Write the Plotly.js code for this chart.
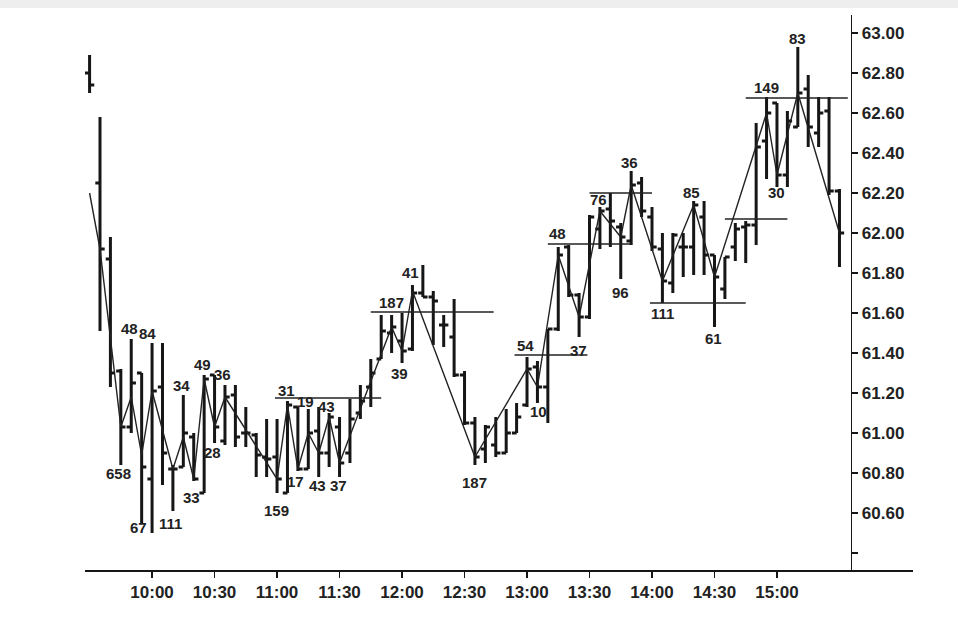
<!DOCTYPE html>
<html><head><meta charset="utf-8">
<script src="https://cdn.plot.ly/plotly-3.0.1.min.js"></script>
<style>html,body{margin:0;padding:0;background:#fff;} #chart{width:958px;height:620px;}</style>
</head><body><div id="chart"></div>
<script>
// 5-minute bars, time in minutes since midnight (09:30 .. 15:30)
const barTimes = [570,575,580,585,590,595,600,605,610,615,620,625,630,635,640,645,650,655,660,665,670,675,680,685,690,695,700,705,710,715,720,725,730,735,740,745,750,755,760,765,770,775,780,785,790,795,800,805,810,815,820,825,830,835,840,845,850,855,860,865,870,875,880,885,890,895,900,905,910,915,920,925,930];
const openP  = [62.80,62.25,61.87,61.31,61.03,61.30,60.77,61.23,60.82,60.83,60.98,60.70,61.29,60.96,61.19,61.00,60.99,60.88,60.88,60.70,61.13,60.82,61.01,60.90,61.03,60.90,61.10,61.23,61.37,61.50,61.46,61.42,61.70,61.68,61.54,61.48,61.29,61.05,60.92,60.94,60.90,61.00,61.14,61.33,61.23,61.52,61.93,61.69,61.58,62.02,62.12,62.03,61.96,62.25,62.08,61.92,61.75,61.93,61.93,62.08,61.89,61.72,61.93,62.03,62.04,62.46,62.65,62.29,62.53,62.72,62.50,62.61,62.21];
const highP  = [62.89,62.58,61.98,61.32,61.47,61.30,61.45,61.45,60.84,61.19,61.00,61.29,61.29,61.24,61.24,61.13,61.00,61.07,61.07,61.16,61.13,61.12,61.13,61.10,61.08,61.17,61.24,61.37,61.59,61.59,61.60,61.74,61.84,61.71,61.59,61.67,61.31,61.08,61.04,61.08,61.12,61.15,61.38,61.36,61.52,61.93,61.94,61.70,62.09,62.13,62.20,62.05,62.31,62.28,62.13,62.00,62.00,62.00,62.16,62.16,61.89,61.88,62.05,62.06,62.55,62.68,62.65,62.61,62.93,62.79,62.68,62.68,62.22];
const lowP   = [62.70,61.51,61.23,60.84,61.00,60.55,60.50,60.74,60.61,60.83,60.76,60.70,60.95,60.94,60.93,60.93,60.78,60.78,60.70,60.70,60.81,60.82,60.78,60.83,60.78,60.85,61.07,61.13,61.37,61.40,61.35,61.41,61.68,61.44,61.43,61.28,61.04,60.84,60.85,60.88,60.90,61.00,61.13,61.15,61.05,61.51,61.68,61.48,61.57,61.92,61.93,61.77,61.94,62.08,61.91,61.65,61.70,61.78,61.79,61.79,61.53,61.67,61.86,61.85,61.94,62.27,62.23,62.23,62.53,62.43,62.43,62.19,61.83];
const closeP = [62.74,61.92,61.30,61.03,61.25,60.83,61.21,60.90,60.82,61.00,60.77,61.27,61.03,61.18,60.98,61.00,60.89,60.87,60.77,61.14,60.82,61.00,60.90,61.08,60.85,61.07,61.16,61.30,61.51,61.53,61.41,61.70,61.68,61.66,61.54,61.29,61.05,60.88,61.03,60.90,61.00,61.08,61.32,61.23,61.52,61.89,61.69,61.58,62.08,62.11,62.06,61.98,62.24,62.11,61.93,61.76,61.99,61.93,62.14,61.89,61.78,61.88,62.02,62.04,62.43,62.60,62.29,62.56,62.70,62.53,62.60,62.21,62.00];

// zigzag swing line
const zigTimes  = [570,575,585,590,595,600,610,615,620,625,630,635,660,665,670,675,680,685,690,715,720,725,755,780,785,795,805,815,825,830,845,860,870,895,900,910,930];
const zigPrices = [62.20,61.92,61.03,61.18,60.89,61.21,60.82,60.98,60.77,61.27,61.03,61.18,60.77,61.14,60.82,61.00,60.90,61.08,60.85,61.53,61.41,61.71,60.88,61.32,61.23,61.89,61.58,62.11,61.98,62.24,61.76,62.14,61.78,62.60,62.29,62.70,62.00];

// horizontal level lines
const levelStart = [659,705,774,790,810,839,875,885];
const levelEnd   = [710,764,809,830,840,885,905,934];
const levelPrice = [61.175,61.605,61.39,61.945,62.20,61.65,62.07,62.675];

// swing labels
const labelText  = ['658','48','84','67','111','34','33','49','28','36','159','31','17','19','43','43','37','187','39','41','187','54','10','48','37','76','96','36','111','85','61','149','30','83'];
const labelTime  = [583.7,589,598,593.3,609,614,618.7,624,628.8,633.6,659.5,664.3,669,673.5,683.5,679.2,689.3,714.7,719,724.3,755,779.5,785.3,794.4,804.5,814.1,824.7,829,844.8,859.2,869.3,895.2,899.6,909.7];
const labelPrice = [60.80,61.525,61.50,60.53,60.55,61.24,60.68,61.345,60.905,61.295,60.615,61.215,60.76,61.16,61.135,60.74,60.74,61.655,61.30,61.805,60.755,61.44,61.11,62.0,61.415,62.17,61.705,62.355,61.60,62.205,61.475,62.73,62.205,62.975];

// axis ticks
const xTickVals = [600,630,660,690,720,750,780,810,840,870,900];
const xTickText = ['10:00','10:30','11:00','11:30','12:00','12:30','13:00','13:30','14:00','14:30','15:00'];
const yTickVals = [60.4,60.6,60.8,61.0,61.2,61.4,61.6,61.8,62.0,62.2,62.4,62.6,62.8,63.0];
const yTickText = ['','60.60','60.80','61.00','61.20','61.40','61.60','61.80','62.00','62.20','62.40','62.60','62.80','63.00'];

const ink = '#161616';
const FONT = 'Liberation Sans, Arial, sans-serif';

const lvX = [], lvY = [];
for (let i = 0; i < levelPrice.length; i++) {
  lvX.push(levelStart[i], levelEnd[i], null);
  lvY.push(levelPrice[i], levelPrice[i], null);
}

const traces = [
  {type:'ohlc', x:barTimes, open:openP, high:highP, low:lowP, close:closeP,
   increasing:{line:{color:ink, width:3}}, decreasing:{line:{color:ink, width:3}},
   tickwidth:0.45, hoverinfo:'skip', showlegend:false},
  {type:'scatter', mode:'lines', x:lvX, y:lvY, line:{color:'#222', width:1.4}, hoverinfo:'skip', showlegend:false},
  {type:'scatter', mode:'lines', x:zigTimes, y:zigPrices, line:{color:'#222', width:1.4}, hoverinfo:'skip', showlegend:false}
];

const annotations = labelText.map((t, i) => ({
  x: labelTime[i], y: labelPrice[i], text: t, showarrow: false,
  xanchor: 'center', yanchor: 'middle',
  font: {family: FONT, size: 15, color: '#222', weight: 700}
}));

const layout = {
  width: 958, height: 620,
  margin: {l: 85, r: 45, t: 15, b: 50},
  paper_bgcolor: '#ffffff', plot_bgcolor: '#ffffff',
  showlegend: false,
  xaxis: {
    range: [567.8, 965.3], tickvals: xTickVals, ticktext: xTickText,
    ticks: 'outside', ticklen: 6, tickwidth: 1.5, tickcolor: ink,
    showline: true, linecolor: ink, linewidth: 2,
    showgrid: false, zeroline: false, fixedrange: true,
    rangeslider: {visible: false},
    tickfont: {family: FONT, size: 17, color: '#222', weight: 700}
  },
  yaxis: {
    range: [60.315, 63.09], side: 'right', anchor: 'free', position: 0.925,
    tickvals: yTickVals, ticktext: yTickText,
    ticks: 'outside', ticklen: 6, tickwidth: 1.5, tickcolor: ink,
    showline: true, linecolor: ink, linewidth: 1.5,
    showgrid: false, zeroline: false, fixedrange: true,
    tickfont: {family: FONT, size: 17, color: '#222', weight: 700}
  },
  shapes: [
    {type:'rect', xref:'paper', yref:'paper', x0:-0.11, x1:1.06, y0:1+7/555, y1:1+16/555,
     fillcolor:'#eeeeee', line:{width:0}, layer:'below'}
  ],
  annotations: annotations
};

Plotly.newPlot('chart', traces, layout, {displayModeBar: false, staticPlot: true});
</script>
</body></html>
